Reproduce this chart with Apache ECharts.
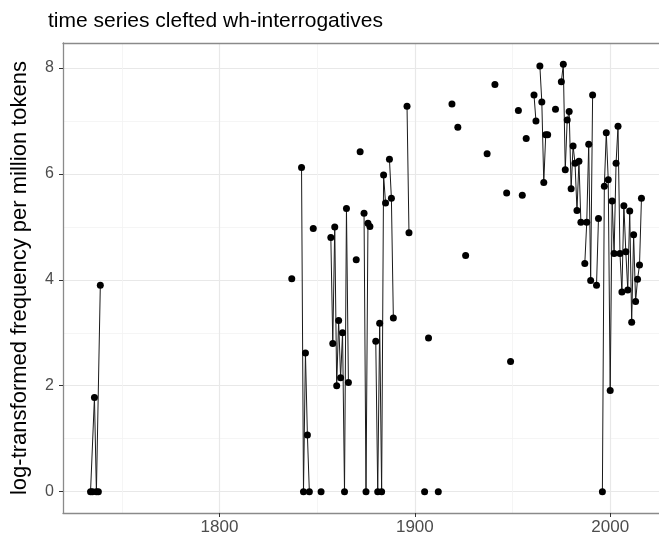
<!DOCTYPE html>
<html><head><meta charset="utf-8">
<script src="https://cdn.jsdelivr.net/npm/echarts@6/dist/echarts.min.js"></script>
<style>html,body{margin:0;padding:0;background:#fff}#c{width:659px;height:543px}</style>
</head><body><div id="c"></div>
<script>
// ---- data ----
const years = [1734,1735,1736,1737,1738,1739,
  1837,1842,1843,1844,1845,1846,1848,1852,
  1857,1858,1859,1860,1861,1862,1863,1864,1865,1866,
  1870,1872,1874,1875,1876,1877,
  1880,1881,1882,1883,1884,1885,1887,1888,1889,
  1896,1897,1905,1907,1912,1919,1922,1926,1937,1941,1947,1949,1953,1955,1957,
  1961,1962,1964,1965,1966,1967,1968,1972,
  1975,1976,1977,1978,1979,1980,1981,1982,1983,1984,1985,
  1987,1988,1989,1990,1991,1993,1994,1996,1997,1998,1999,
  2000,2001,2002,2003,2004,2005,2006,2007,2008,2009,2010,2011,2012,2013,2014,2015,2016];
const values = [0,0,1.78,0,0,3.9,
  4.02,6.12,0,2.62,1.07,0,4.97,0,
  4.8,2.8,5.0,2.0,3.23,2.15,3.0,0,5.35,2.06,
  4.38,6.42,5.26,0,5.07,5.01,
  2.84,0,3.18,0,5.98,5.45,6.28,5.54,3.28,
  7.28,4.89,0,2.9,0,7.32,6.88,4.46,6.38,7.69,5.64,2.46,7.2,5.6,6.67,
  7.49,7.0,8.04,7.36,5.84,6.74,6.74,7.22,
  7.74,8.07,6.08,7.02,7.18,5.72,6.53,6.2,5.31,6.24,5.09,
  4.31,5.09,6.56,3.99,7.49,3.9,5.16,0,5.77,6.78,5.89,
  1.91,5.49,4.5,6.2,6.9,4.5,3.77,5.4,4.53,3.81,5.3,3.2,4.85,3.59,4.01,4.28,5.54];
const xMajorTicks = [1800, 1900, 2000];
const xMinorTicks = [1750, 1850, 1950];
const yMajorTicks = [0, 2, 4, 6, 8];
const yMinorTicks = [1, 3, 5, 7];
const titleText = 'time series clefted wh-interrogatives';
const yTitle = 'log-transformed frequency per million tokens';

// line breaks where years are not consecutive (like NA gaps)
const seriesData = [];
for (let i = 0; i < years.length; i++) {
  if (i > 0 && years[i] - years[i-1] > 1) seriesData.push([years[i-1] + 1, '-']);
  seriesData.push([years[i], values[i]]);
}
// ggplot-like 5% expansion
const xMin0 = Math.min(...years), xMax0 = Math.max(...years);
const yMin0 = Math.min(...values), yMax0 = Math.max(...values);
const xPad = (xMax0 - xMin0) * 0.05, yPad = (yMax0 - yMin0) * 0.05;
const xr = {min: xMin0 - xPad, max: xMax0 + xPad};
const yr = {min: yMin0 - yPad, max: yMax0 + yPad};

const FONT = 'Liberation Sans, Arial, sans-serif';
const BORDER = {color: '#8a8a8a', width: 1.3};
const plain = v => String(v);
const chart = echarts.init(document.getElementById('c'), null, {renderer: 'canvas'});
chart.setOption({
  animation: false,
  backgroundColor: '#ffffff',
  title: {text: titleText, left: 43, top: 6,
    textStyle: {fontFamily: FONT, fontSize: 21, fontWeight: 'normal', color: '#000'}},
  grid: {left: 63, top: 43, right: -10, bottom: 30, show: false,
    outerBoundsMode: 'none', containLabel: false},
  xAxis: [{
    type: 'value', min: xr.min, max: xr.max, position: 'bottom',
    axisLine: {show: true, onZero: false, lineStyle: BORDER},
    axisTick: {show: true, length: 4, lineStyle: {color: '#333'}, customValues: xMajorTicks},
    axisLabel: {customValues: xMajorTicks, formatter: plain, fontFamily: FONT, fontSize: 17, color: '#4d4d4d', margin: 6},
    splitLine: {show: true, lineStyle: {color: '#e8e8e8', width: 1.2}}
  }, {
    type: 'value', min: xr.min, max: xr.max, position: 'top',
    axisLine: {show: true, onZero: false, lineStyle: BORDER}, axisLabel: {show: false},
    axisTick: {show: false, customValues: xMinorTicks},
    splitLine: {show: true, lineStyle: {color: '#f3f3f3', width: 0.8}}
  }],
  yAxis: [{
    type: 'value', min: yr.min, max: yr.max, position: 'left',
    name: yTitle, nameLocation: 'middle', nameGap: 32, nameRotate: 90,
    nameTextStyle: {fontFamily: FONT, fontSize: 22, color: '#000'},
    axisLine: {show: true, onZero: false, lineStyle: BORDER},
    axisTick: {show: true, length: 4, lineStyle: {color: '#333'}, customValues: yMajorTicks},
    axisLabel: {customValues: yMajorTicks, formatter: plain, fontFamily: FONT, fontSize: 16, color: '#4d4d4d', margin: 9},
    splitLine: {show: true, lineStyle: {color: '#e8e8e8', width: 1.2}}
  }, {
    type: 'value', min: yr.min, max: yr.max, position: 'left',
    axisLine: {show: false, onZero: false}, axisLabel: {show: false},
    axisTick: {show: false, customValues: yMinorTicks},
    splitLine: {show: true, lineStyle: {color: '#f3f3f3', width: 0.8}}
  }],
  series: [{
    type: 'line', xAxisIndex: 0, yAxisIndex: 0,
    data: seriesData, connectNulls: false,
    showSymbol: true, showAllSymbol: true, symbol: 'circle', symbolSize: 7,
    lineStyle: {color: '#1a1a1a', width: 1},
    itemStyle: {color: '#000'},
    emphasis: {disabled: true}
  }]
});
</script>
</body></html>
